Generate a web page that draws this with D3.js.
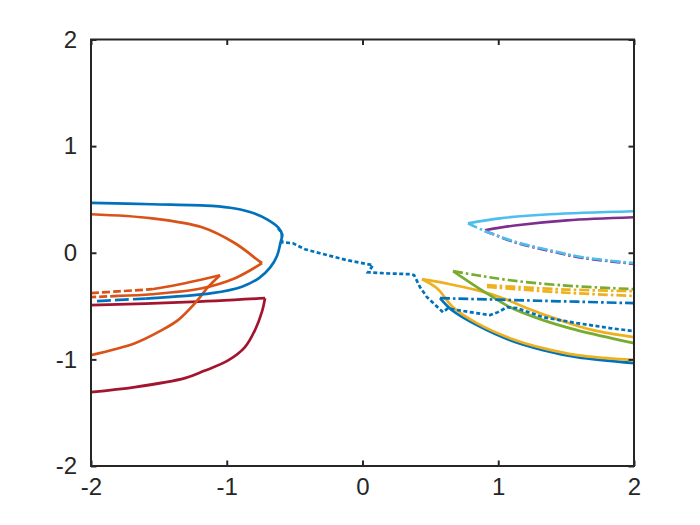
<!DOCTYPE html>
<html>
<head>
<meta charset="utf-8">
<script src="https://cdn.jsdelivr.net/npm/d3@7"></script>
<style>
  body { margin: 0; background: #fff; }
  svg { display: block; }
</style>
</head>
<body>
<div id="chart"></div>
<script>
// tick values
var xTicks = [-2, -1, 0, 1, 2];
var yTicks = [-2, -1, 0, 1, 2];

// left side branches (x, y)
var blueLoop = [[-2, 0.467], [-1.551, 0.455], [-1.109, 0.440], [-0.939, 0.415], [-0.800, 0.370], [-0.700, 0.310],
  [-0.620, 0.235], [-0.593, 0.170], [-0.605, 0.090], [-0.630, -0.030], [-0.681, -0.140], [-0.760, -0.235],
  [-0.888, -0.318], [-1.109, -0.379], [-1.6, -0.43]];
var blueLoopDash = [[-1.956, -0.454], [-1.75, -0.44], [-1.6, -0.43]];
var blueDotted = [[-0.622, 0.230], [-0.593, 0.183], [-0.593, 0.098], [-0.512, 0.089], [-0.424, 0.033], [-0.313, -0.005],
  [-0.114, -0.070], [0.077, -0.117], [0.041, -0.183], [0.151, -0.192], [0.350, -0.201], [0.38, -0.21], [0.424, -0.323],
  [0.475, -0.417], [0.593, -0.557], [0.630, -0.520], [0.659, -0.529], [0.792, -0.557], [0.939, -0.585], [0.998, -0.557],
  [1.064, -0.511], [1.138, -0.520], [1.330, -0.604], [1.580, -0.660], [1.823, -0.707], [2, -0.735]];
var orangeAUpper = [[-2, 0.361], [-1.551, 0.323], [-1.182, 0.239], [-0.939, 0.089], [-0.770, -0.070], [-0.740, -0.098]];
var orangeALower = [[-0.740, -0.098], [-0.939, -0.239], [-1.182, -0.333], [-1.551, -0.389], [-1.8, -0.405]];
var orangeADash = [[-1.8, -0.405], [-2, -0.417]];
var orangeBUpper = [[-1.55, -0.342], [-1.308, -0.286], [-1.050, -0.211]];
var orangeBLower = [[-1.050, -0.211], [-1.138, -0.323], [-1.234, -0.473], [-1.359, -0.632], [-1.492, -0.735],
  [-1.676, -0.848], [-2, -0.960]];
var orangeBDash = [[-2, -0.379], [-1.8, -0.362], [-1.55, -0.342]];
var redUpper = [[-2, -0.492], [-1.308, -0.464], [-0.718, -0.426]];
var redLower = [[-0.718, -0.426], [-0.740, -0.550], [-0.790, -0.720], [-0.866, -0.885], [-0.990, -1.010],
  [-1.170, -1.110], [-1.308, -1.176], [-1.676, -1.260], [-2, -1.307]];

// right side branches
var yellowUpper = [[0.438, -0.248], [0.645, -0.295], [0.843, -0.351], [1.035, -0.426], [1.212, -0.520], [1.455, -0.632],
  [1.698, -0.726], [2, -0.792]];
var yellowLower = [[0.438, -0.248], [0.549, -0.333], [0.667, -0.511], [0.843, -0.660], [1.087, -0.801], [1.330, -0.895],
  [1.580, -0.960], [2, -1.007]];
var yellowDashDotA = [[0.917, -0.304], [1.5, -0.345], [2, -0.36]];
var yellowDashDotB = [[0.917, -0.32], [1.5, -0.375], [2, -0.405]];
var greenSolid = [[0.667, -0.173], [0.843, -0.323], [0.961, -0.417], [1.087, -0.511], [1.330, -0.632], [1.580, -0.726], [2, -0.848]];
var greenDashDot = [[0.667, -0.173], [0.843, -0.211], [1.087, -0.258], [1.455, -0.304], [2, -0.342]];
var blueSolidRight = [[0.571, -0.426], [0.659, -0.539], [0.843, -0.679], [1.087, -0.820], [1.330, -0.913], [1.580, -0.979], [2, -1.035]];
var blueDashDotRight = [[0.571, -0.426], [1.3, -0.45], [2, -0.473]];
var cyanSolid = [[0.777, 0.276], [1.013, 0.323], [1.381, 0.361], [2, 0.389]];
var cyanDashDot = [[0.777, 0.276], [0.888, 0.211], [1.138, 0.098], [1.381, 0.023], [1.624, -0.042], [2, -0.098]];
var purpleSolid = [[0.902, 0.211], [1.138, 0.258], [1.506, 0.304], [2, 0.333]];
var purpleDashDot = [[0.902, 0.205], [1.138, 0.092], [1.381, 0.017], [1.624, -0.048], [2, -0.104]];

var W = 700, H = 525;
var margin = {top: 39.5, right: 66, bottom: 59, left: 91};
var width = W - margin.left - margin.right,
    height = H - margin.top - margin.bottom;

var svg = d3.select('#chart').append('svg')
    .attr('width', W).attr('height', H)
    .append('g')
    .attr('transform', 'translate(' + margin.left + ',' + margin.top + ')');

var x = d3.scaleLinear().domain([-2, 2]).range([0, width]);
var y = d3.scaleLinear().domain([-2, 2]).range([height, 0]);

svg.append('clipPath').attr('id', 'plotclip')
  .append('rect').attr('x', -2).attr('y', -2).attr('width', width + 4).attr('height', height + 4);

var smooth = d3.line().x(function(d) { return x(d[0]); }).y(function(d) { return y(d[1]); })
    .curve(d3.curveCatmullRom.alpha(0.5));
var straight = d3.line().x(function(d) { return x(d[0]); }).y(function(d) { return y(d[1]); });

var dashed = '8,3', dotted = '4,2.5', dashdot = '10,3,2.5,3';

// drawing order and styles
var series = [
  {d: redUpper, c: '#A2142F', dash: null, gen: smooth},
  {d: redLower, c: '#A2142F', dash: null, gen: smooth},
  {d: orangeAUpper, c: '#D95319', dash: null, gen: smooth},
  {d: orangeALower, c: '#D95319', dash: null, gen: smooth},
  {d: orangeADash, c: '#D95319', dash: dashed, gen: straight},
  {d: orangeBUpper, c: '#D95319', dash: null, gen: smooth},
  {d: orangeBLower, c: '#D95319', dash: null, gen: smooth},
  {d: orangeBDash, c: '#D95319', dash: dashed, gen: smooth},
  {d: blueLoop, c: '#0072BD', dash: null, gen: smooth},
  {d: blueLoopDash, c: '#0072BD', dash: '14,4', gen: smooth},
  {d: blueSolidRight, c: '#0072BD', dash: null, gen: smooth},
  {d: yellowUpper, c: '#EDB120', dash: null, gen: smooth},
  {d: yellowLower, c: '#EDB120', dash: null, gen: smooth},
  {d: greenSolid, c: '#77AC30', dash: null, gen: smooth},
  {d: blueDotted, c: '#0072BD', dash: dotted, gen: straight},
  {d: blueDashDotRight, c: '#0072BD', dash: dashdot, gen: smooth},
  {d: greenDashDot, c: '#77AC30', dash: dashdot, gen: smooth},
  {d: yellowDashDotA, c: '#EDB120', dash: dashdot, gen: smooth},
  {d: yellowDashDotB, c: '#EDB120', dash: dashdot, gen: smooth},
  {d: purpleSolid, c: '#7E2F8E', dash: null, gen: smooth},
  {d: purpleDashDot, c: '#7E2F8E', dash: dashdot, gen: smooth},
  {d: cyanSolid, c: '#4DBEEE', dash: null, gen: smooth},
  {d: cyanDashDot, c: '#4DBEEE', dash: dashdot, gen: smooth}
];

svg.append('g').attr('clip-path', 'url(#plotclip)')
  .selectAll('path')
  .data(series)
  .enter()
  .append('path')
  .attr('d', function(s) { return s.gen(s.d); })
  .attr('fill', 'none')
  .attr('stroke', function(s) { return s.c; })
  .attr('stroke-width', 2.7)
  .attr('stroke-dasharray', function(s) { return s.dash; })
  .attr('stroke-linejoin', 'miter');

// axes (box with inward ticks on all sides)
var axisColor = '#262626';
var tickLen = 5.5;
var fmt = function(d) { return String(d); };

var gx = svg.append('g').attr('transform', 'translate(0,' + height + ')')
  .call(d3.axisBottom(x).tickValues(xTicks).tickSizeInner(-tickLen).tickSizeOuter(0).tickPadding(12).tickFormat(fmt));
var gy = svg.append('g')
  .call(d3.axisLeft(y).tickValues(yTicks).tickSizeInner(-tickLen).tickSizeOuter(0).tickPadding(14).tickFormat(fmt));
var gt = svg.append('g')
  .call(d3.axisTop(x).tickValues(xTicks).tickSizeInner(-tickLen).tickSizeOuter(0).tickFormat(''));
var gr = svg.append('g').attr('transform', 'translate(' + width + ',0)')
  .call(d3.axisRight(y).tickValues(yTicks).tickSizeInner(-tickLen).tickSizeOuter(0).tickFormat(''));

[gx, gy, gt, gr].forEach(function(g) {
  g.select('.domain').remove();
  g.selectAll('line').attr('stroke', axisColor).attr('stroke-width', 2);
  g.selectAll('text')
    .attr('fill', axisColor)
    .style('font-family', '"Liberation Sans", Arial, Helvetica, sans-serif')
    .style('font-size', '24px');
});

svg.append('rect')
  .attr('x', 0).attr('y', 0).attr('width', width).attr('height', height)
  .attr('fill', 'none').attr('stroke', axisColor).attr('stroke-width', 2);
</script>
</body>
</html>
